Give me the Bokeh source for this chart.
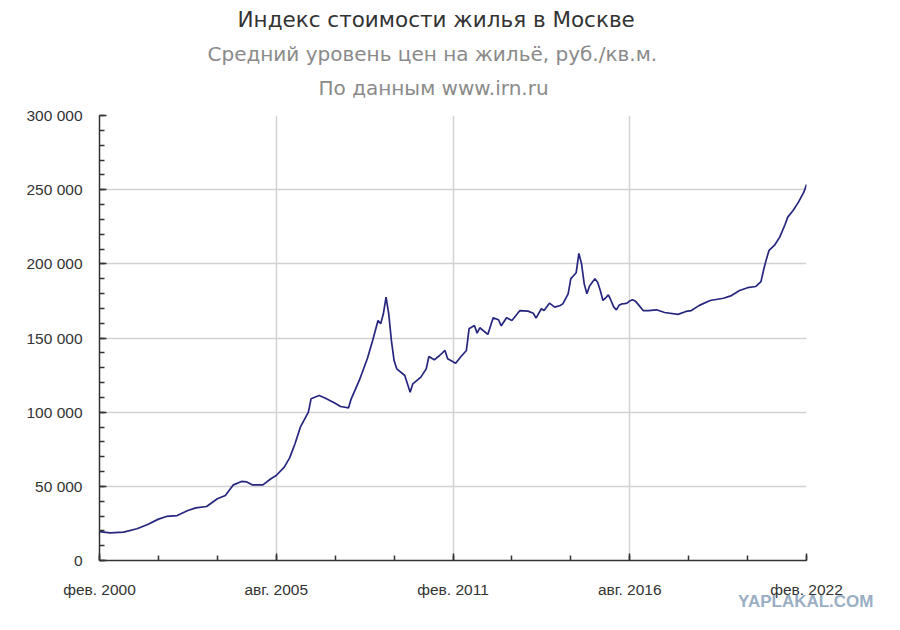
import pandas as pd
from bokeh.plotting import figure
from bokeh.models import FixedTicker, Title, Range1d
from bokeh.embed import file_html
from bokeh.resources import INLINE

title_text = "Индекс стоимости жилья в Москве"
subtitle_text = "Средний уровень цен на жильё, руб./кв.м."
source_text = "По данным www.irn.ru"
watermark_text = "YAPLAKAL.COM"

dates = [
    "2000-02", "2000-06", "2000-11", "2001-04", "2001-08", "2001-12", "2002-03", "2002-07",
    "2002-11", "2003-02", "2003-06", "2003-10", "2004-01", "2004-04", "2004-07", "2004-09",
    "2004-11", "2005-03", "2005-06", "2005-08", "2005-11", "2006-01", "2006-03", "2006-05",
    "2006-08", "2006-09", "2006-12", "2007-02", "2007-06", "2007-08", "2007-11", "2007-12",
    "2008-03", "2008-06", "2008-08", "2008-10", "2008-11", "2008-12", "2009-01", "2009-02",
    "2009-03", "2009-04", "2009-05", "2009-08", "2009-10", "2009-11", "2010-02", "2010-04",
    "2010-05", "2010-07", "2010-09", "2010-11", "2010-12", "2011-03", "2011-05", "2011-07",
    "2011-08", "2011-10", "2011-11", "2011-12", "2012-03", "2012-05", "2012-07", "2012-08",
    "2012-10", "2012-12", "2013-03", "2013-06", "2013-08", "2013-09", "2013-11", "2013-12",
    "2014-02", "2014-04", "2014-06", "2014-07", "2014-09", "2014-10", "2014-11", "2014-12",
    "2015-01", "2015-02", "2015-03", "2015-04", "2015-05", "2015-06", "2015-07", "2015-08",
    "2015-09", "2015-10", "2015-11", "2015-12", "2016-01", "2016-02", "2016-03", "2016-04",
    "2016-05", "2016-06", "2016-07", "2016-08", "2016-09", "2016-10", "2016-11", "2017-01",
    "2017-03", "2017-06", "2017-09", "2018-02", "2018-05", "2018-07", "2018-10", "2019-02",
    "2019-07", "2019-10", "2020-01", "2020-04", "2020-07", "2020-09", "2020-10", "2020-11",
    "2020-12", "2021-02", "2021-04", "2021-06", "2021-07", "2021-09", "2021-11", "2022-01",
    "2022-02",
]

prices = [
    19500, 18600, 19100, 21400, 24300, 27900, 29700, 30300,
    33700, 35500, 36400, 41600, 43800, 51000, 53300, 53000,
    51000, 51000, 55100, 57300, 62900, 69200, 78700, 89900,
    100000, 109000, 111200, 109700, 106000, 103800, 102900, 109000,
    121400, 136000, 148300, 161800, 159600, 166300, 177500, 166300,
    148300, 134800, 129200, 124700, 113500, 119100, 123600, 129200,
    137500, 135300, 138200, 141600, 136000, 133000, 137500, 141600,
    156200, 158400, 153300, 156900, 152400, 163600, 162300, 158200,
    163600, 161800, 168500, 168100, 166700, 163400, 169700, 168500,
    173500, 170800, 171900, 173000, 179800, 190000, 192000, 194000,
    207000, 200000, 186500, 179800, 185000, 187600, 189900, 187600,
    182000, 175300, 177000, 179100, 175300, 171000, 169000, 172000,
    173000, 173200, 173500, 175000, 175800, 175000, 173000, 168500,
    168500, 169000, 167200, 165900, 167900, 168500, 172000, 175300,
    176800, 178600, 182000, 183900, 184700, 188000, 196000, 203000,
    209000, 212400, 218000, 226500, 231500, 236000, 241600, 248300,
    253500,
]

x_tick_dates = ["2000-02", "2005-08", "2011-02", "2016-08", "2022-02"]
x_tick_labels = ["фев. 2000", "авг. 2005", "фев. 2011", "авг. 2016", "фев. 2022"]
y_ticks = [0, 50000, 100000, 150000, 200000, 250000, 300000]
y_tick_labels = ["0", "50 000", "100 000", "150 000", "200 000", "250 000", "300 000"]


def month_index(s):
    y, m = map(int, s.split("-"))
    return (y - 2000) * 12 + (m - 2)


xs = [month_index(d) for d in dates]
x_ticks = [month_index(d) for d in x_tick_dates]
x_start, x_end = x_ticks[0], x_ticks[-1]
x_minor = list(range(x_start, x_end + 1, (x_ticks[1] - x_ticks[0]) // 3))
y_minor = list(range(0, y_ticks[-1] + 1, 10000))

p = figure(
    width=880, height=625,
    output_backend="svg", toolbar_location=None,
    x_range=Range1d(x_start, x_end), y_range=Range1d(0, y_ticks[-1]),
    min_border_left=99, min_border_right=74, min_border_top=115, min_border_bottom=65,
    background_fill_color="white", border_fill_color="white",
)
p.outline_line_color = None

p.line(xs, prices, line_color="#26267f", line_width=1.7)

font = "Liberation Sans"
for ax in (p.xaxis[0], p.yaxis[0]):
    ax.axis_line_color = "#333333"
    ax.axis_line_width = 1.5
    ax.major_tick_line_color = "#333333"
    ax.minor_tick_line_color = "#333333"
    ax.major_tick_line_width = 1.5
    ax.minor_tick_line_width = 1.5
    ax.major_tick_in = 7
    ax.major_tick_out = 0
    ax.minor_tick_in = 5
    ax.minor_tick_out = 0
    ax.major_label_text_font = font
    ax.major_label_text_font_size = "15.5px"
    ax.major_label_text_color = "#333333"

p.xaxis[0].ticker = FixedTicker(ticks=x_ticks, minor_ticks=x_minor)
p.xaxis[0].major_label_overrides = dict(zip(x_ticks, x_tick_labels))
p.xaxis[0].major_label_standoff = 20
p.yaxis[0].ticker = FixedTicker(ticks=y_ticks, minor_ticks=y_minor)
p.yaxis[0].major_label_overrides = dict(zip(y_ticks, y_tick_labels))
p.yaxis[0].major_label_standoff = 17

for g in (p.xgrid[0], p.ygrid[0]):
    g.grid_line_color = "#d2d2d2"
    g.grid_line_width = 1.5

title_font = "DejaVu Sans"
# stacked from the frame outward: a tiny white spacer, then the three heading lines
p.add_layout(Title(text=".", text_color="white", text_font_size="2px", standoff=12), "above")
p.add_layout(Title(text=source_text, align="left", offset=219, standoff=2,
                   text_font=title_font, text_font_size="20px", text_font_style="normal",
                   text_color="#8a8a8a"), "above")
p.add_layout(Title(text=subtitle_text, align="left", offset=108, standoff=14,
                   text_font=title_font, text_font_size="20px", text_font_style="normal",
                   text_color="#8a8a8a"), "above")
p.add_layout(Title(text=title_text, align="left", offset=138, standoff=2,
                   text_font=title_font, text_font_size="21.5px", text_font_style="normal",
                   text_color="#333333"), "above")
p.add_layout(Title(text=watermark_text, align="right", offset=-67, standoff=-18,
                   vertical_align="top",
                   text_font=font, text_font_size="17px", text_font_style="bold",
                   text_color="#9aaec4"), "below")

open("out.html", "w").write(file_html(p, INLINE))
